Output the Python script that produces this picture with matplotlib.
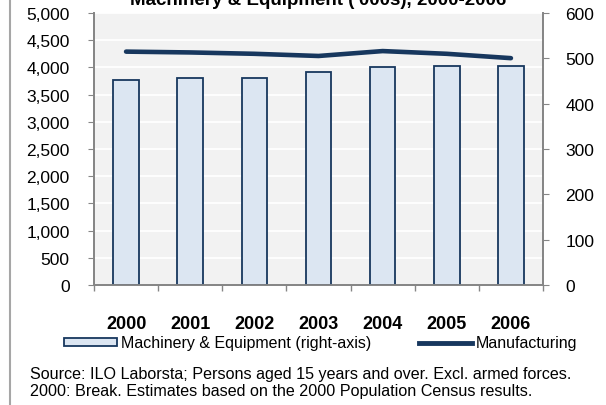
import matplotlib
matplotlib.use("Agg")
import matplotlib.pyplot as plt
from matplotlib.lines import Line2D
from matplotlib.ticker import FuncFormatter, FixedLocator

plt.rcParams['font.family'] = ['Liberation Sans', 'DejaVu Sans']

years = ['2000', '2001', '2002', '2003', '2004', '2005', '2006']
machinery = [453, 456, 456, 470, 481, 484, 483]          # right axis
manufacturing = [4290, 4275, 4250, 4210, 4300, 4250, 4170]  # left axis

navy = '#17375e'
bar_fill = '#dce6f2'
axis_grey = '#868686'

fig = plt.figure(figsize=(6.06, 4.06), dpi=100)
ax = fig.add_axes([94 / 606, (406 - 286) / 406, (543 - 94) / 606, (286 - 14) / 406])
ax2 = ax.twinx()

x = list(range(len(years)))
ax.set_facecolor('#f2f2f2')
ax.plot(x, manufacturing, color=navy, lw=3.3, solid_capstyle='round', zorder=3)
ax2.bar(x, machinery, width=0.4, color=bar_fill, edgecolor=navy, linewidth=1.3)

ax.set_xlim(-0.5, len(years) - 0.5)
ax.set_ylim(0, 5000)
ax2.set_ylim(0, 600)
ax.set_yticks(range(0, 5001, 500))
ax2.set_yticks(range(0, 601, 100))
ax.yaxis.set_major_formatter(FuncFormatter(lambda v, p: f'{int(v):,}'))
ax.grid(axis='y', color='white', lw=1.3)
ax.set_axisbelow(True)

ax.set_xticks(x)
ax.set_xticklabels(years, fontweight='bold', fontsize=13)
ax.xaxis.set_minor_locator(FixedLocator([i - 0.5 for i in range(len(years) + 1)]))
ax.tick_params(axis='x', which='major', length=0, pad=21.5)
ax.tick_params(axis='x', which='minor', length=4, color=axis_grey, width=1)
ax.tick_params(axis='y', length=4, color=axis_grey, labelsize=12.5, pad=13.5)
ax2.tick_params(axis='y', length=4, color=axis_grey, labelsize=12.5, pad=12)

for a in (ax, ax2):
    a.spines['top'].set_visible(False)
    for s in ('left', 'right', 'bottom'):
        a.spines[s].set_color(axis_grey)
        a.spines[s].set_linewidth(1.3)

fig.text(0.525, 1 - 5 / 406, "Machinery & Equipment ('000s), 2000-2006",
         ha='center', va='baseline', fontweight='bold', fontsize=13.5)

handles = [plt.Rectangle((0, 0), 1, 1, facecolor=bar_fill, edgecolor=navy, linewidth=1.3),
           Line2D([], [], color=navy, lw=3.5)]
fig.legend(handles, ['Machinery & Equipment (right-axis)', 'Manufacturing'],
           loc='center', bbox_to_anchor=(320.5 / 606, 1 - 344 / 406), ncol=2, frameon=False,
           fontsize=11.5, handlelength=3.3, handleheight=0.45, handletextpad=0.25,
           columnspacing=3.0, borderpad=0, borderaxespad=0)

fig.text(30 / 606, 1 - 383 / 406,
         'Source: ILO Laborsta; Persons aged 15 years and over. Excl. armed forces.\n'
         '2000: Break. Estimates based on the 2000 Population Census results.',
         ha='left', va='center', fontsize=11.6, linespacing=1.2)

fig.add_artist(Line2D([10 / 606, 10 / 606], [0, 1], color='#a6a6a6', lw=1.5))

fig.savefig('out.png', dpi=100)
